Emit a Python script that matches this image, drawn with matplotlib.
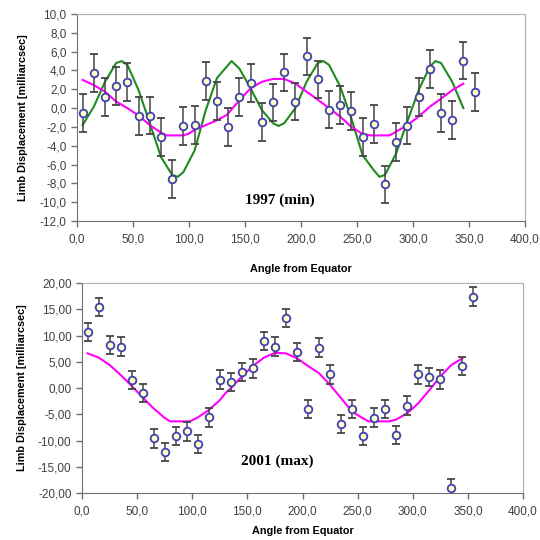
import matplotlib
matplotlib.use("Agg")
import matplotlib.pyplot as plt
from matplotlib.ticker import FuncFormatter, MultipleLocator

# ---- 1997 (min) ----
angles = [5, 15, 25, 35, 45, 55, 65, 75, 85, 95, 105, 115, 125, 135, 145, 155, 165, 175,
          185, 195, 205, 215, 225, 235, 245, 255, 265, 275, 285, 295, 305, 315, 325, 335, 345, 355]
disp_1997 = [-0.55, 3.7, 1.15, 2.35, 2.8, -0.85, -0.8, -3.1, -7.5, -1.9, -1.8, 2.9, 0.75,
             -2.0, 1.2, 2.7, -1.5, 0.6, 3.8, 0.7, 5.5, 3.05, -0.15, 0.3, -0.3, -3.1,
             -1.7, -8.1, -3.6, -1.85, 1.15, 4.15, -0.55, -1.25, 5.05, 1.7]
err_1997 = 2.0

green_x = [5, 15, 25, 35, 40, 45, 55, 65, 75, 85, 90, 95, 105, 115, 125, 138, 145, 155, 165,
           175, 180, 185, 195, 205, 215, 220, 225, 235, 245, 255, 265, 270, 275, 285, 295,
           305, 315, 320, 325, 335, 345]
green_y = [-1.8, 0.15, 2.8, 4.8, 5.0, 4.6, 1.9, -1.6, -5.2, -7.1, -7.3, -6.8, -4.5, -0.2, 3.2,
           5.0, 4.2, 2.1, -0.2, -1.6, -1.9, -1.6, 0.0, 2.8, 4.8, 5.0, 4.6, 2.3, -1.1, -5.0,
           -6.6, -7.3, -7.1, -4.8, -1.4, 1.9, 4.4, 5.0, 4.8, 2.8, 0.0]

pink_x_1997 = [5, 15, 25, 35, 45, 55, 65, 75, 80, 95, 100, 105, 115, 125, 134, 145, 155, 165,
               175, 185, 195, 205, 215, 225, 235, 245, 255, 262, 279, 285, 295, 305, 315,
               325, 335, 345]
pink_y_1997 = [3.0, 2.45, 1.75, 0.7, 0.0, -0.8, -1.8, -2.6, -2.9, -2.9, -2.7, -2.3, -1.8,
               -1.3, -0.7, 0.85, 2.1, 2.8, 3.1, 3.1, 2.6, 1.75, 0.9, 0.0, -0.9, -2.0, -2.75,
               -2.9, -2.9, -2.5, -1.8, -0.9, 0.15, 1.0, 1.9, 2.6]

# ---- 2001 (max) ----
disp_2001 = [10.7, 15.4, 8.2, 7.9, 1.5, -1.0, -9.6, -12.2, -9.1, -8.25, -10.7, -5.6, 1.6,
             1.2, 3.0, 3.75, 8.95, 7.9, 13.3, 6.9, -4.0, 7.7, 2.6, -6.85, -4.05, -9.1,
             -5.65, -4.05, -8.95, -3.35, 2.6, 2.15, 1.65, -19.0, 4.25, 17.4]
err_2001 = 1.75

pink_x_2001 = [5, 15, 25, 35, 45, 55, 65, 75, 80, 98, 105, 115, 125, 130, 135, 145, 155, 165,
               175, 185, 195, 205, 215, 225, 235, 245, 255, 260, 279, 285, 295, 305, 315,
               325, 335, 345]
pink_y_2001 = [6.6, 5.8, 4.4, 2.5, 0.4, -1.8, -3.9, -5.7, -6.35, -6.35, -5.6, -4.2, -2.3,
               -1.0, -0.05, 2.2, 4.2, 5.8, 6.7, 6.6, 5.65, 4.2, 2.8, 0.6, -1.95, -4.5, -5.8,
               -6.35, -6.35, -6.0, -4.8, -2.9, -0.4, 2.2, 4.4, 5.65]

label_font = "Liberation Sans"
tick_color = "#404040"


def style_axes(ax, yfmt, xpad):
    for side in ("top", "right"):
        ax.spines[side].set_color("#b0b0b0")
    for side in ("left", "bottom"):
        ax.spines[side].set_color("#707070")
    ax.tick_params(direction="out", length=4, width=1, color="#707070",
                   labelsize=8.5, labelcolor=tick_color)
    ax.tick_params(axis="x", pad=5)
    for lab in ax.get_xticklabels() + ax.get_yticklabels():
        lab.set_family(label_font)
    ax.xaxis.set_major_locator(MultipleLocator(50))
    ax.xaxis.set_major_formatter(FuncFormatter(lambda v, p: f"{v:.1f}".replace(".", ",")))
    ax.yaxis.set_major_formatter(FuncFormatter(lambda v, p: yfmt.format(v).replace(".", ",")))
    ax.set_xlim(0, 400)
    ax.set_xlabel("Angle from Equator", fontsize=7.8, fontweight="bold",
                  family=label_font, labelpad=xpad)
    ax.set_ylabel("Limb Displacement [milliarcsec]", fontsize=7.8, fontweight="bold",
                  family=label_font, labelpad=8)


def draw_points(ax, y, err):
    ax.errorbar(angles, y, yerr=err, fmt="o", ms=5.5, mfc="#ffffcc", mec="#4040b0",
                mew=1.3, ecolor="#454545", elinewidth=1.1, capsize=3, capthick=1.1,
                zorder=4)


fig = plt.figure(figsize=(5.4, 5.4), dpi=100)

ax1 = fig.add_axes([0.1426, 0.5907, 0.8296, 0.3833])
ax1.plot(green_x, green_y, color="#1f8a1f", lw=1.5, zorder=3)
ax1.plot(pink_x_1997, pink_y_1997, color="#ff00ff", lw=1.5, zorder=3)
draw_points(ax1, disp_1997, err_1997)
ax1.set_ylim(-12, 10)
ax1.yaxis.set_major_locator(MultipleLocator(2))
style_axes(ax1, "{:.1f}", 13)
ax1.text(181, -9.8, "1997 (min)", fontsize=11, fontweight="bold",
         family="Liberation Serif", ha="center", va="center")

ax2 = fig.add_axes([0.1519, 0.087, 0.8167, 0.3889])
ax2.plot(pink_x_2001, pink_y_2001, color="#ff00ff", lw=1.5, zorder=3)
draw_points(ax2, disp_2001, err_2001)
ax2.set_ylim(-20, 20)
ax2.yaxis.set_major_locator(MultipleLocator(5))
style_axes(ax2, "{:.2f}", 6)
ax2.text(177, -14.0, "2001 (max)", fontsize=11, fontweight="bold",
         family="Liberation Serif", ha="center", va="center")

fig.savefig("out.png", dpi=100)
